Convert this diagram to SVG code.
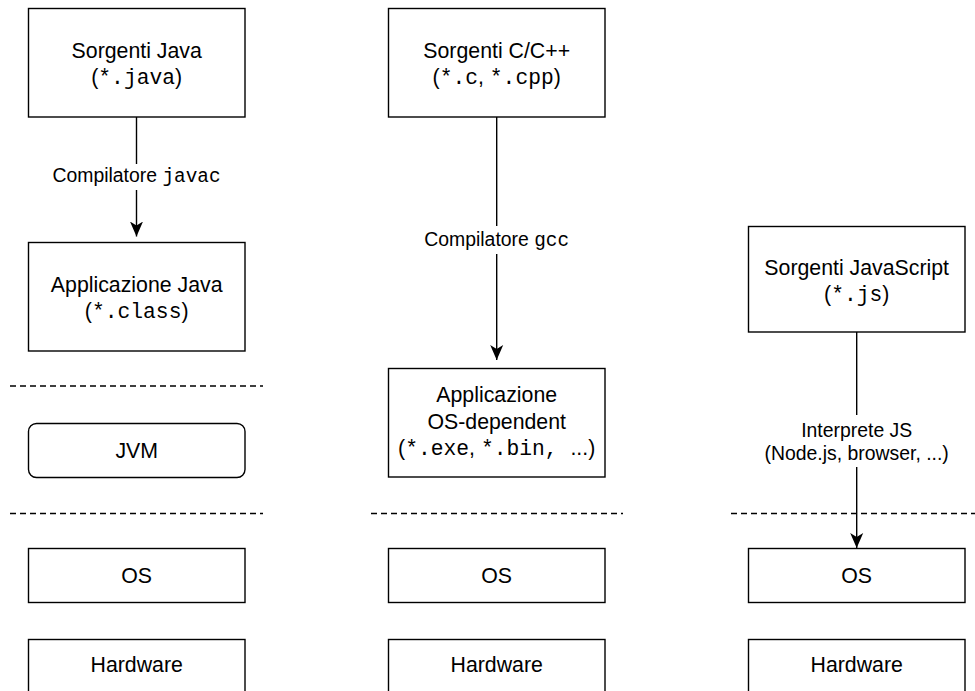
<svg xmlns="http://www.w3.org/2000/svg" width="975" height="691" viewBox="0 0 975 691">
<style>
.box{fill:#fff;stroke:#000;stroke-width:1.4}
.t{font-family:"Liberation Sans",Arial,sans-serif;font-size:21.3px;fill:#000;text-anchor:middle}
.l{font-size:19.4px}
.m{font-family:"Liberation Mono","Courier New",monospace}
.dash{stroke:#000;stroke-width:1.4;stroke-dasharray:6 4;fill:none}
.edge{stroke:#000;stroke-width:1.4;fill:none}
.bg{fill:#fff}
</style>
<defs>
<marker id="arr" markerUnits="userSpaceOnUse" markerWidth="16" markerHeight="14" viewBox="0 0 16 14" refX="15" refY="7" orient="auto">
<path d="M0,0.5 L15,7 L0,13.5 L4,7 Z" fill="#000"/>
</marker>
</defs>
<rect width="975" height="691" fill="#fff"/>

<g id="separators">
<line class="dash" x1="10" y1="386" x2="263" y2="386"/>
<line class="dash" x1="10" y1="513.5" x2="263" y2="513.5"/>
<line class="dash" x1="371" y1="513.5" x2="623" y2="513.5"/>
<line class="dash" x1="731" y1="513.5" x2="975" y2="513.5"/>
</g>

<g id="connectors">
<line class="edge" x1="136.5" y1="117" x2="136.5" y2="236.5" marker-end="url(#arr)"/>
<line class="edge" x1="496.7" y1="117" x2="496.7" y2="360" marker-end="url(#arr)"/>
<line class="edge" x1="856.7" y1="332" x2="856.7" y2="548" marker-end="url(#arr)"/>
<rect class="bg" x="48" y="164" width="176" height="26"/>
<text class="t l" x="136.5" y="182">Compilatore <tspan class="m">javac</tspan></text>
<rect class="bg" x="422" y="226" width="150" height="28"/>
<text class="t l" x="496.7" y="246">Compilatore <tspan class="m">gcc</tspan></text>
<rect class="bg" x="753" y="415" width="208" height="52"/>
<text class="t l" x="856.7" y="436.5">Interprete JS</text>
<text class="t l" x="856.7" y="460">(Node.js, browser, ...)</text>
</g>

<g id="java-src">
<rect class="box" x="28.5" y="8.5" width="216.5" height="108.5"/>
<text class="t" x="136.7" y="57.5">Sorgenti Java</text>
<text class="t" x="136.7" y="83.5">(<tspan class="m">*.java</tspan>)</text>
</g>
<g id="java-app">
<rect class="box" x="28.5" y="242.5" width="216.5" height="108.5"/>
<text class="t" x="136.7" y="291.5">Applicazione Java</text>
<text class="t" x="136.7" y="317.5">(<tspan class="m">*.class</tspan>)</text>
</g>
<g id="jvm">
<rect class="box" x="28.5" y="423.5" width="216.5" height="54" rx="8" ry="8"/>
<text class="t" x="136.7" y="458">JVM</text>
</g>
<g id="os1">
<rect class="box" x="28.5" y="548.5" width="216.5" height="54"/>
<text class="t" x="136.7" y="583">OS</text>
</g>
<g id="hw1">
<rect class="box" x="28.5" y="639.5" width="216.5" height="54"/>
<text class="t" x="136.7" y="672">Hardware</text>
</g>

<g id="c-src">
<rect class="box" x="388.5" y="8.5" width="216.5" height="108.5"/>
<text class="t" x="496.7" y="57.5">Sorgenti C/C++</text>
<text class="t" x="496.7" y="83.5">(<tspan class="m">*.c</tspan>, <tspan class="m">*.cpp</tspan>)</text>
</g>
<g id="c-app">
<rect class="box" x="388.5" y="368.5" width="216.5" height="108.5"/>
<text class="t" x="496.7" y="402">Applicazione</text>
<text class="t" x="496.7" y="428.5">OS-dependent</text>
<text class="t" x="496.7" y="455">(<tspan class="m">*.exe</tspan>, <tspan class="m">*.bin, </tspan>...)</text>
</g>
<g id="os2">
<rect class="box" x="388.5" y="548.5" width="216.5" height="54"/>
<text class="t" x="496.7" y="583">OS</text>
</g>
<g id="hw2">
<rect class="box" x="388.5" y="639.5" width="216.5" height="54"/>
<text class="t" x="496.7" y="672">Hardware</text>
</g>

<g id="js-src">
<rect class="box" x="748.5" y="226.5" width="216.5" height="105.5"/>
<text class="t" x="856.7" y="275">Sorgenti JavaScript</text>
<text class="t" x="856.7" y="301">(<tspan class="m">*.js</tspan>)</text>
</g>
<g id="os3">
<rect class="box" x="748.5" y="548.5" width="216.5" height="54"/>
<text class="t" x="856.7" y="583">OS</text>
</g>
<g id="hw3">
<rect class="box" x="748.5" y="639.5" width="216.5" height="54"/>
<text class="t" x="856.7" y="672">Hardware</text>
</g>
</svg>
